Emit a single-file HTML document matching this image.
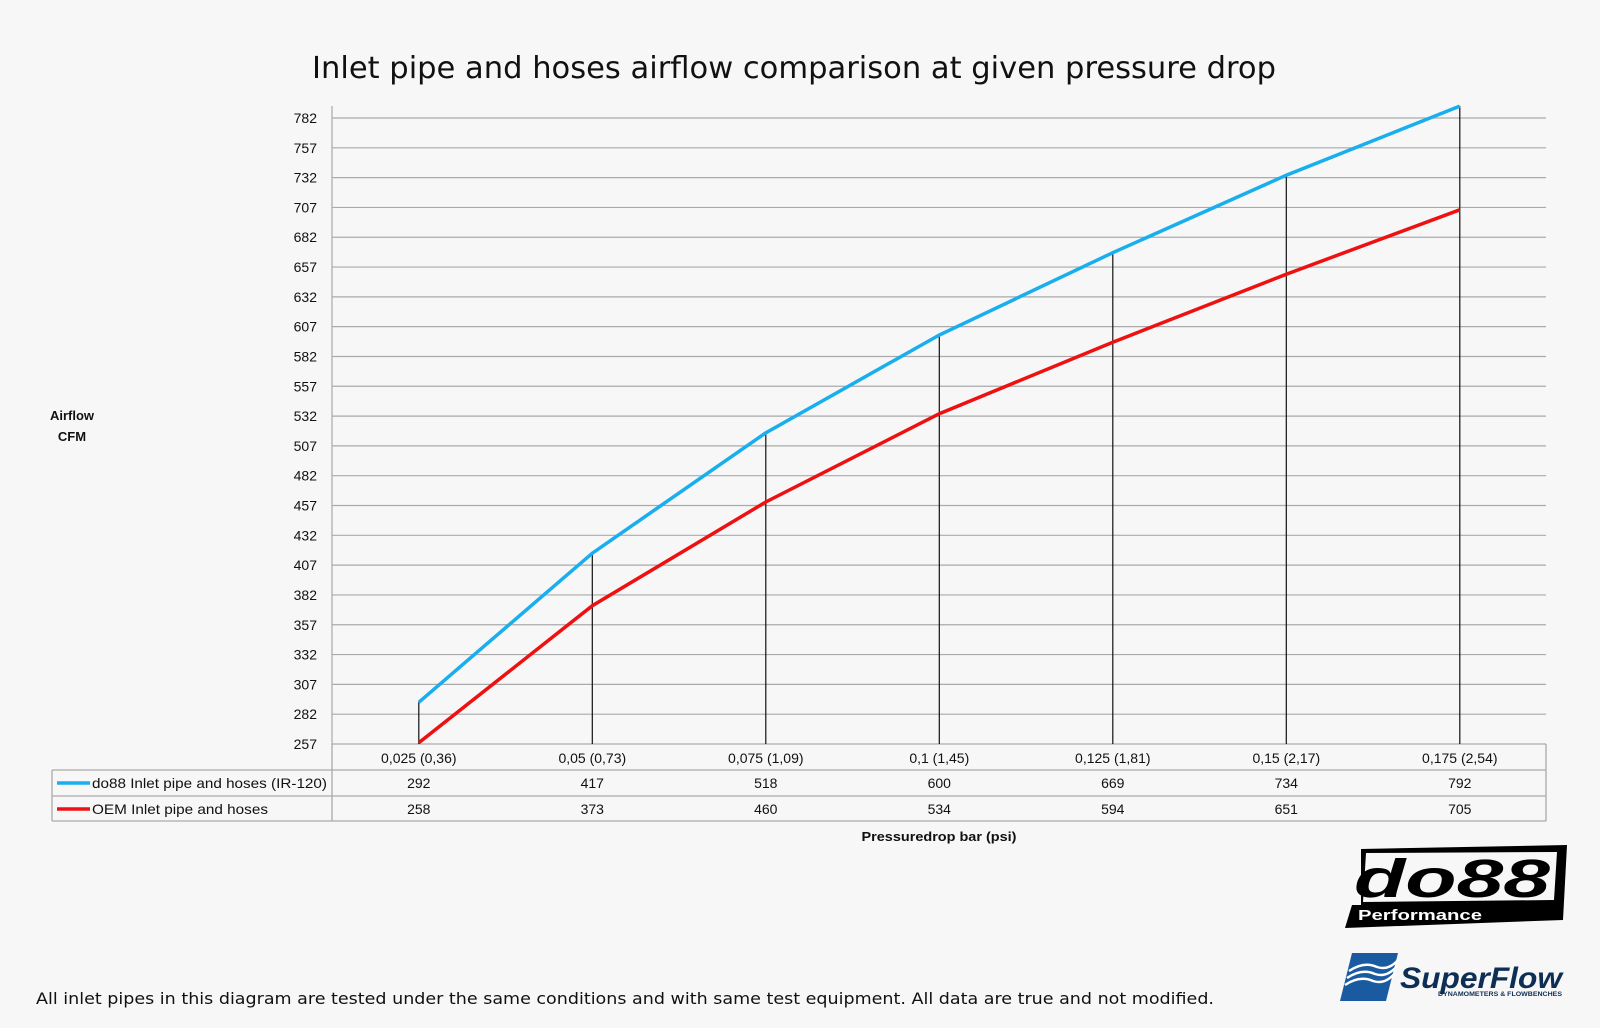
<!DOCTYPE html>
<html><head><meta charset="utf-8"><style>
body{margin:0;background:#f7f7f7;}
svg{display:block}
text{font-family:"Liberation Sans",sans-serif;}
</style></head><body>
<svg width="1600" height="1028" viewBox="0 0 1600 1028" xmlns="http://www.w3.org/2000/svg">
<rect width="1600" height="1028" fill="#f7f7f7"/>
<text x="312" y="78" font-size="30" fill="#111" style="font-family:'DejaVu Sans',sans-serif" textLength="964" lengthAdjust="spacingAndGlyphs">Inlet pipe and hoses airflow comparison at given pressure drop</text>
<g id="grid" stroke="#aaa" stroke-width="1.2"></g>
<g id="ylab" font-size="14" fill="#111" text-anchor="end"></g>
<line x1="332" y1="106" x2="332" y2="744" stroke="#aaa" stroke-width="1.2"/>
<g id="drops" stroke="#111" stroke-width="1.2"></g>
<polyline fill="none" stroke="#ee1111" stroke-width="3.5" points="418.8,742.8 592.3,605.7 765.8,502 939.3,413.7 1112.8,342.2 1286.3,274.2 1459.8,209.8"/>
<polyline fill="none" stroke="#19aeee" stroke-width="3.5" points="418.8,702.3 592.3,553.2 765.8,432.8 939.3,335 1112.8,252.7 1286.3,175.2 1459.8,106.1"/>
<g stroke="#aaa" stroke-width="1.3" fill="none">
<path d="M332 744 V821 M1546 744 V821 M52 770 H1546 M52 796 H1546 M52 821 H1546 M52 770 V821"/>
</g>
<g font-size="14" fill="#111" text-anchor="middle" id="tbl"></g>
<line x1="57" y1="783" x2="90" y2="783" stroke="#19aeee" stroke-width="3.5"/>
<line x1="57" y1="809" x2="90" y2="809" stroke="#ee1111" stroke-width="3.5"/>
<text x="92" y="788" font-size="14" fill="#111" textLength="235" lengthAdjust="spacingAndGlyphs">do88 Inlet pipe and hoses (IR-120)</text>
<text x="92" y="814" font-size="14" fill="#111" textLength="176" lengthAdjust="spacingAndGlyphs">OEM Inlet pipe and hoses</text>
<text x="72" y="420" font-size="13" font-weight="bold" text-anchor="middle" fill="#111">Airflow</text>
<text x="72" y="441" font-size="13" font-weight="bold" text-anchor="middle" fill="#111">CFM</text>
<text x="939" y="841" font-size="13" font-weight="bold" text-anchor="middle" fill="#111" textLength="155" lengthAdjust="spacingAndGlyphs">Pressuredrop bar (psi)</text>
<text x="36" y="1004" font-size="16" fill="#111" style="font-family:'DejaVu Sans',sans-serif" textLength="1178" lengthAdjust="spacingAndGlyphs">All inlet pipes in this diagram are tested under the same conditions and with same test equipment. All data are true and not modified.</text>
<!-- do88 logo -->
<polygon points="1361,849 1567,845 1563,920 1345,928 1352,905 1361,905" fill="#000"/>
<polygon points="1366,853 1557,852 1554,900 1363,902" fill="#f7f7f7"/>
<text x="1354" y="897" font-size="54" font-weight="bold" font-style="italic" fill="#000" textLength="196" lengthAdjust="spacingAndGlyphs">do88</text>
<text x="1358" y="920" font-size="15" font-weight="bold" fill="#fff" textLength="124" lengthAdjust="spacingAndGlyphs">Performance</text>
<!-- SuperFlow -->
<polygon points="1352,953 1398,953 1386,1001 1340,1001" fill="#1a5aa0"/>
<path d="M1345 985 q15 -10 28 -4 q12 4 22 -8 M1347 978 q15 -10 28 -4 q12 4 22 -8 M1349 971 q15 -10 28 -4 q12 4 22 -8" stroke="#fff" stroke-width="2.5" fill="none"/>
<text x="1400" y="988" font-size="30" font-weight="bold" font-style="italic" fill="#0e2f55" textLength="162" lengthAdjust="spacingAndGlyphs">SuperFlow</text>
<text x="1438" y="996" font-size="6" font-weight="bold" fill="#0e2f55" textLength="124" lengthAdjust="spacingAndGlyphs">DYNAMOMETERS &amp; FLOWBENCHES</text>
</svg>
<script>
var ns="http://www.w3.org/2000/svg";
function el(p,t,a,txt){var e=document.createElementNS(ns,t);for(var k in a)e.setAttribute(k,a[k]);if(txt!=null)e.textContent=txt;document.getElementById(p).appendChild(e);}
for(var v=257;v<=782;v+=25){var y=744-(v-257)*29.81/25;el("grid","line",{x1:332,x2:1546,y1:y,y2:y});el("ylab","text",{x:317,y:y+5},v);}
var cats=["0,025 (0,36)","0,05 (0,73)","0,075 (1,09)","0,1 (1,45)","0,125 (1,81)","0,15 (2,17)","0,175 (2,54)"];
var a=[292,417,518,600,669,734,792],b=[258,373,460,534,594,651,705];
for(var i=0;i<7;i++){var x=418.8+i*173.5;var y=744-(a[i]-257)*29.81/25;
el("drops","line",{x1:x,x2:x,y1:744,y2:y});
el("tbl","text",{x:x,y:763},cats[i]);el("tbl","text",{x:x,y:788},a[i]);el("tbl","text",{x:x,y:814},b[i]);}
</script>
</body></html>
